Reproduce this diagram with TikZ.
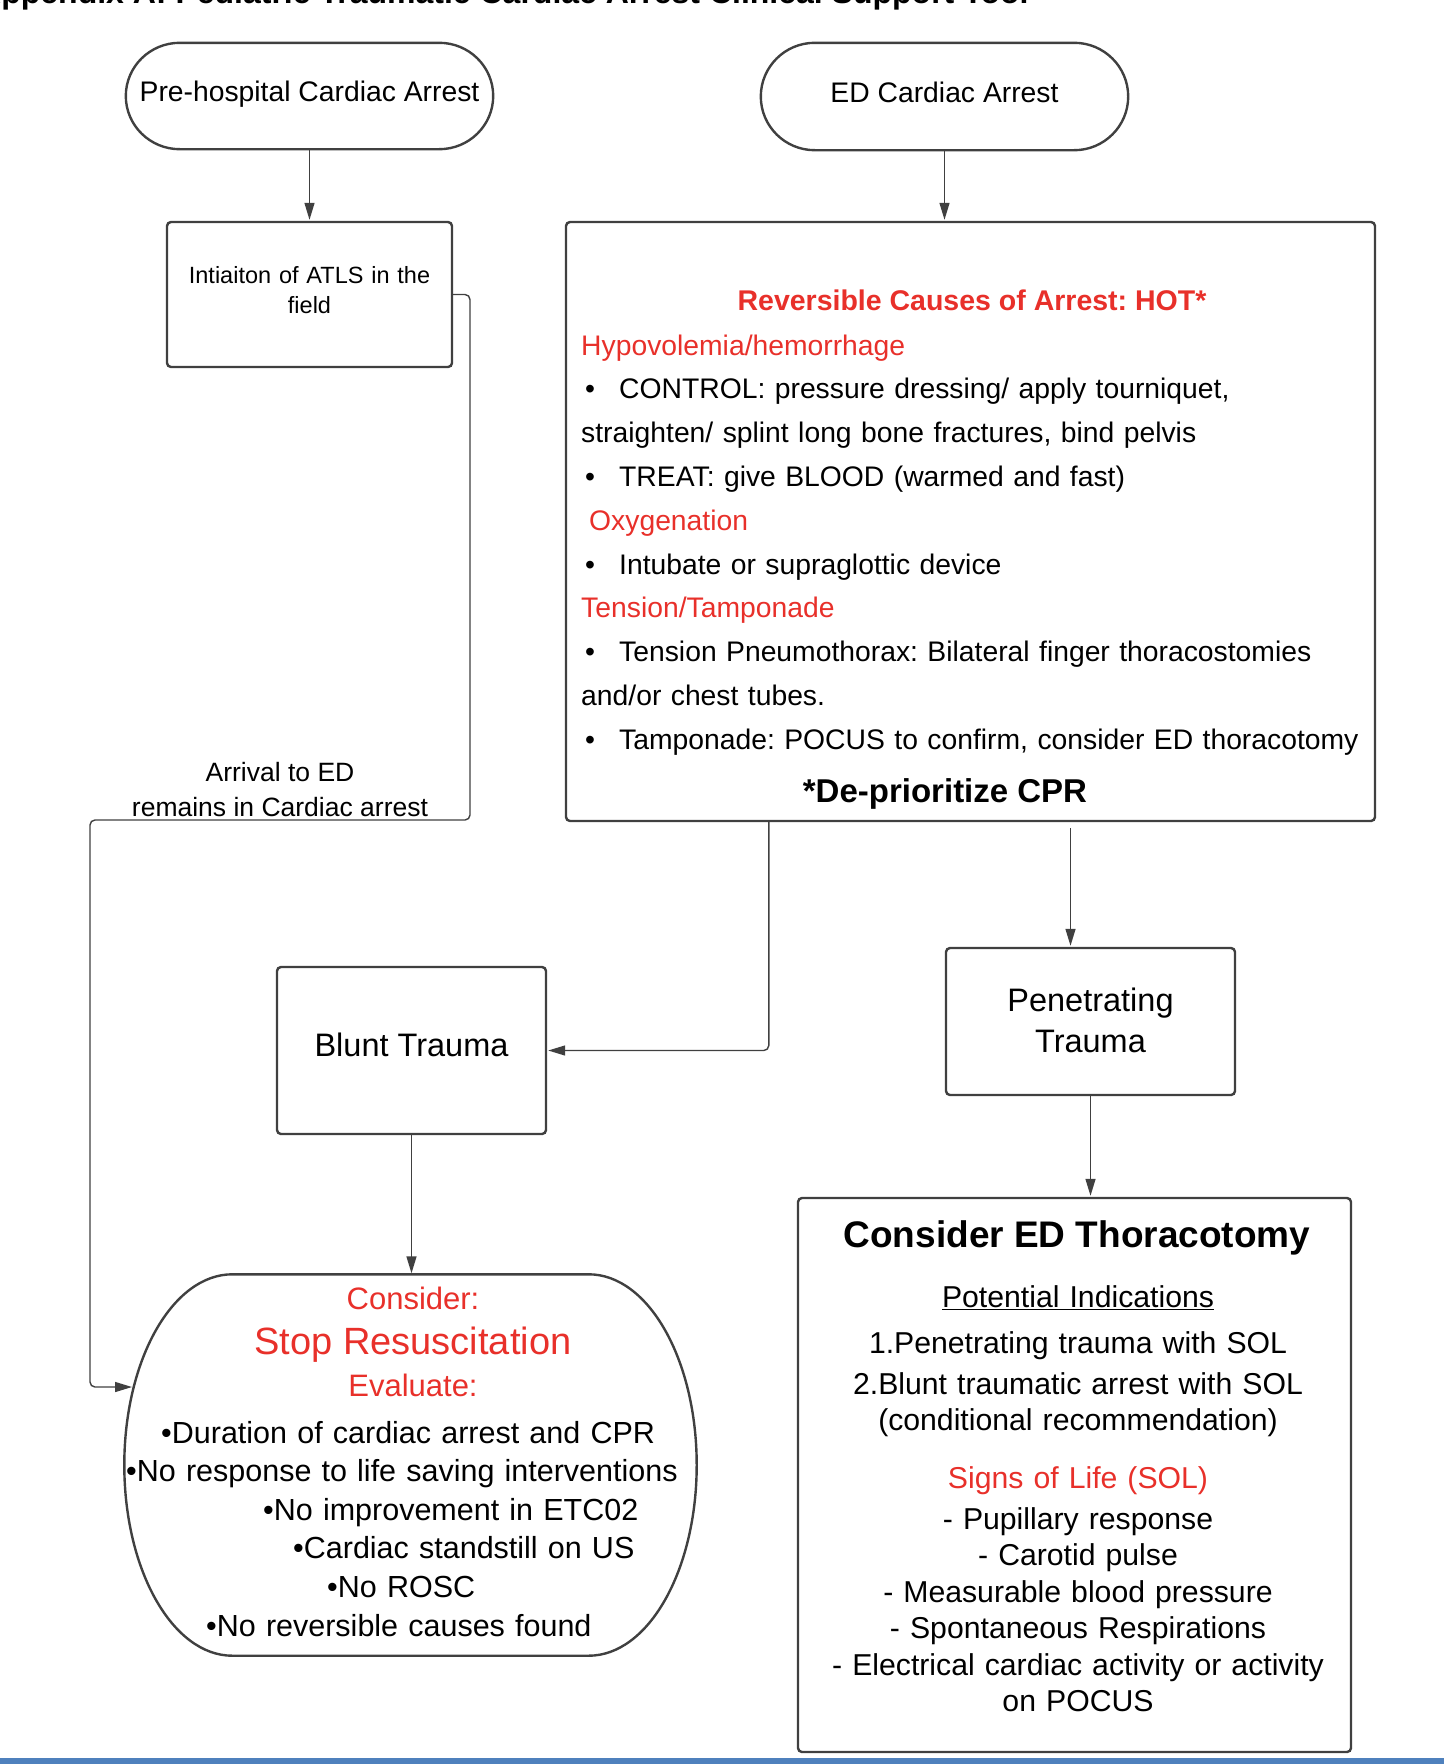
\documentclass[tikz,border=0pt]{standalone}
\usepackage{fontspec}
\setmainfont{Liberation Sans}
\usetikzlibrary{
  arrows.meta,
  calc,
}
\definecolor{hotred}{RGB}{232,48,42}
\definecolor{linegray}{RGB}{64,64,64}
\definecolor{barblue}{RGB}{79,129,189}
\tikzset{
  >={Triangle[length=17pt,width=10pt]},
  shorten >=1pt,
  box/.style={draw=linegray, line width=2.4pt, rounded corners=4pt, inner sep=0pt},
  termline/.style={draw=linegray, line width=2.4pt},
  link/.style={->, draw=linegray, line width=1.4pt, rounded corners=5pt},
  lbl/.style={above, align=center, inner sep=3pt, font=\fontsize{26.5}{35}\selectfont},
  txt/.style={font=\fontsize{28.3}{43.8}\selectfont},
}
% outline of a terminal shape round a node
\newcommand{\drawterm}[2]{%
  \draw[termline] let \p1=(#1.north west), \p2=(#1.south east), \n1={(\y1-\y2)/2} in
    (\x1+#2,\y1) -- (\x2-#2,\y1)
    arc[start angle=90, end angle=-90, x radius=#2, y radius=\n1]
    -- (\x1+#2,\y2)
    arc[start angle=270, end angle=90, x radius=#2, y radius=\n1] -- cycle;}
\newcommand{\bul}{\hspace*{4pt}\makebox[34pt][l]{•}}

\begin{document}
\frenchspacing
\begin{tikzpicture}[x=1pt, y=-1pt]
      \useasboundingbox (0,0) rectangle (1444,1764);
      \node[anchor=base west, inner sep=0, font=\bfseries\fontsize{32}{38}\selectfont] (title) at (-22,3)
        {Appendix A: Pediatric Traumatic Cardiac Arrest Clinical Support Tool};

      % start of the two paths
      \node[txt, inner sep=0, text height=20.5pt, text depth=9.5pt,
        minimum width=367pt, minimum height=106pt] (pre) at (309.5,96) {Pre-hospital Cardiac Arrest};
      \node[txt, inner sep=0, text height=20.5pt, text depth=9.5pt,
        minimum width=367pt, minimum height=107pt] (ed) at (944.5,96.5) {ED Cardiac Arrest};
      \drawterm{pre}{54pt}
      \drawterm{ed}{54pt}

      \node[box, minimum width=285pt, minimum height=145pt, text width=270pt, align=center,
        text height=16.8pt, text depth=38.6pt,
        font=\fontsize{23.5}{30}\selectfont] (init) at (309.5,294.5) {Intiaiton of ATLS in the\\field};

      % reversible causes
      \node[box, minimum width=809pt, minimum height=599pt] (hot) at (970.5,521.5) {};
      \node[anchor=base, text=hotred, font=\bfseries\fontsize{28.5}{34}\selectfont] (hottitle) at (972,310)
        {Reversible Causes of Arrest: HOT*};
      \node[txt, anchor=base west, inner sep=0, text width=790pt, align=left] (hotbody) at (581,355) {%
        {\color{hotred}Hypovolemia/hemorrhage}\\
        \bul CONTROL: pressure dressing/ apply tourniquet,\\
        straighten/ splint long bone fractures, bind pelvis\\
        \bul TREAT: give BLOOD (warmed and fast)\\
        \hspace*{8pt}{\color{hotred}Oxygenation}\\
        \bul Intubate or supraglottic device\\
        {\color{hotred}Tension/Tamponade}\\
        \bul Tension Pneumothorax: Bilateral finger thoracostomies\\
        and/or chest tubes.\\
        \bul Tamponade: POCUS to confirm, consider ED thoracotomy};
      \node[anchor=base, font=\bfseries\fontsize{33}{40}\selectfont] (hotfoot) at (945,802) {*De-prioritize CPR};

      % trauma types
      \node[box, minimum width=269pt, minimum height=167pt, text height=23.3pt, text depth=12.3pt,
        font=\fontsize{32.5}{41}\selectfont] (blunt) at (411.5,1050.5) {Blunt Trauma};
      \node[box, minimum width=289pt, minimum height=147pt, text width=280pt, align=center,
        text height=23.3pt, text depth=44.3pt,
        font=\fontsize{32.5}{41}\selectfont] (pen) at (1090.5,1021.5) {Penetrating\\Trauma};

      % stop resuscitation
      \node[inner sep=0, minimum width=572pt, minimum height=381pt] (stop) at (410.5,1465) {};
      \drawterm{stop}{108pt}
      \node[anchor=base, text=hotred, font=\fontsize{31}{38}\selectfont] (consider) at (413,1309) {Consider:};
      \node[anchor=base, text=hotred, font=\fontsize{38}{46}\selectfont] (stoptitle) at (413,1354) {Stop Resuscitation};
      \node[anchor=base, text=hotred, font=\fontsize{31}{38}\selectfont] (evaluate) at (413,1396) {Evaluate:};
      \node[anchor=base west, inner sep=0, text width=570pt, align=left,
        font=\fontsize{30.5}{38.6}\selectfont] (stopbody) at (126,1443) {%
        \hspace*{35pt}•Duration of cardiac arrest and CPR\\
        •No response to life saving interventions\\
        \hspace*{137pt}•No improvement in ETC02\\
        \hspace*{167pt}•Cardiac standstill on US\\
        \hspace*{201pt}•No ROSC\\
        \hspace*{80pt}•No reversible causes found};

      % thoracotomy
      \node[box, minimum width=553pt, minimum height=554pt] (con) at (1074.5,1475) {};
      \node[anchor=base, font=\bfseries\fontsize{37}{44}\selectfont] (contitle) at (1077,1247) {Consider ED Thoracotomy};
      \node[anchor=base, inner sep=0, text width=540pt, align=center,
        font=\fontsize{30.2}{36.4}\selectfont] (conbody) at (1078,1307) {%
        \underline{Potential Indications}\\[9.6pt]
        1.Penetrating trauma with SOL\\[4.6pt]
        2.Blunt traumatic arrest with SOL\\
        (conditional recommendation)\\[21.6pt]
        {\color{hotred}Signs of Life (SOL)}\\[4.6pt]
        - Pupillary response\\
        - Carotid pulse\\
        - Measurable blood pressure\\
        - Spontaneous Respirations\\
        - Electrical cardiac activity or activity\\
        on POCUS};

      % connectors
      \coordinate (stopin) at (133,1387);
      \coordinate (pentop) at ([xshift=-20pt]pen.north);
      \draw[link] (pre) -- (init);
      \draw[link] (ed.south) -- (ed.south |- hot.north);
      \draw[link] (init.east) -- (470,294.5) -- (470,820)
        -- node[lbl] {Arrival to ED\\remains in Cardiac arrest} (90,820) -- (90,1387) -- (stopin);
      \draw[link] ([xshift=204pt]hot.south west) |- (blunt.east);
      \draw[link, shorten <=6pt] (pentop |- hot.south) -- (pentop);
      \draw[link] (blunt.south) -- (blunt.south |- stop.north);
      \draw[link] (pen.south) -- (pen.south |- con.north);

      \fill[barblue] (0,1758) rectangle (1444,1764);
    \end{tikzpicture}
\end{document}
